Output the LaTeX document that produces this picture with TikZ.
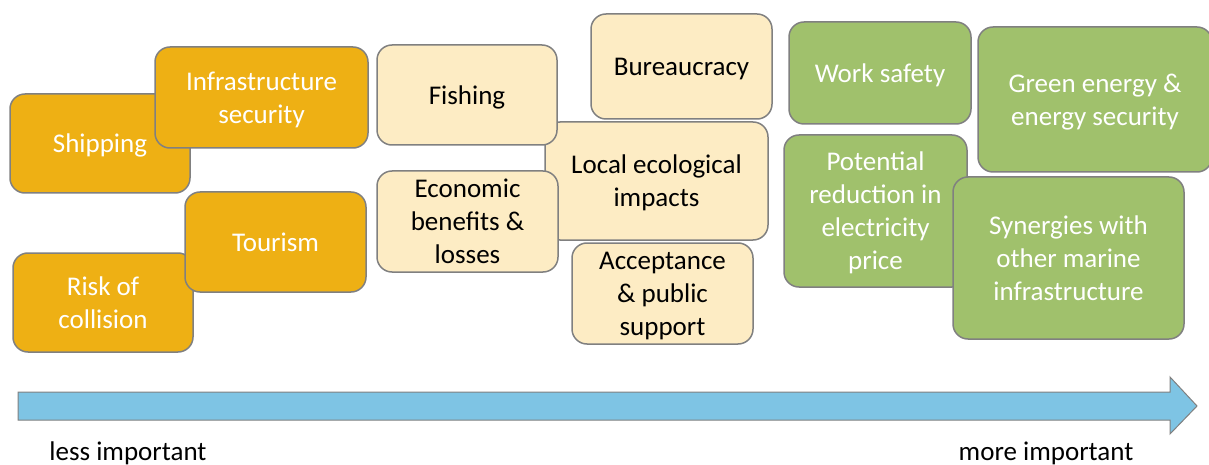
\documentclass[tikz,border=0pt]{standalone}
\usepackage{fontspec}
\setmainfont{Carlito}
\definecolor{gold}{RGB}{238,176,20}
\definecolor{cream}{RGB}{253,236,196}
\definecolor{leaf}{RGB}{160,193,108}
\definecolor{sky}{RGB}{126,196,228}
\definecolor{edge}{RGB}{128,128,128}
\begin{document}
\begin{tikzpicture}[x=1pt,y=-1pt,
  box/.style={draw=edge, line width=1.5pt, rounded corners=15pt, inner sep=0pt,
    text depth=0pt, align=center, font=\fontsize{27}{33}\selectfont},
  lowbox/.style={box, fill=gold, text=white},
  midbox/.style={box, fill=cream, text=black},
  highbox/.style={box, fill=leaf, text=white},
  axislabel/.style={font=\fontsize{27}{33}\selectfont, inner sep=0pt}]
\useasboundingbox (0,0) rectangle (1209,465);

% less important topics
\node[lowbox, minimum width=180pt, minimum height=99pt]  (ship)  at (100,143.5) {Shipping};
\node[lowbox, minimum width=213pt, minimum height=101pt] (infra) at (261.5,97.5) {Infrastructure\\security};
\node[lowbox, minimum width=180pt, minimum height=99pt]  (risk)  at (103,302.5) {Risk of\\collision};
\node[lowbox, minimum width=181pt, minimum height=100pt] (tour)  at (275.5,242) {Tourism};

% medium topics
\node[midbox, minimum width=223pt, minimum height=118pt] (local) at (656.5,181) {Local ecological\\impacts};
\node[midbox, minimum width=180pt, minimum height=100pt] (fish)  at (467,95) {Fishing};
\node[midbox, minimum width=181pt, minimum height=101pt] (econ)  at (467.5,221.5) {Economic\\benefits \&\\losses};
\node[midbox, minimum width=181pt, minimum height=105pt] (bur)   at (681.5,66.5) {Bureaucracy};
\node[midbox, minimum width=181pt, minimum height=101pt] (acc)   at (662.5,293.5) {Acceptance\\\& public\\support};

% more important topics
\node[highbox, minimum width=182pt, minimum height=102pt] (work)  at (880,73) {Work safety};
\node[highbox, minimum width=234pt, minimum height=145pt] (green) at (1095,99.5) {Green energy \&\\energy security};
\node[highbox, minimum width=183pt, minimum height=152pt] (pot)   at (875.5,211) {Potential\\reduction in\\electricity\\price};
\node[highbox, minimum width=231pt, minimum height=162pt] (syn)   at (1068.5,258) {Synergies with\\other marine\\infrastructure};

% importance axis
\draw[draw=edge, line width=1pt, fill=sky, line join=miter]
  (18,392) -- (1170,392) -- (1170,377) -- (1197,406) -- (1170,434) -- (1170,420) -- (18,420) -- cycle;
\node[axislabel] (less) at (128,453) {less important};
\node[axislabel] (more) at (1046,453) {more important};
\end{tikzpicture}
\end{document}
